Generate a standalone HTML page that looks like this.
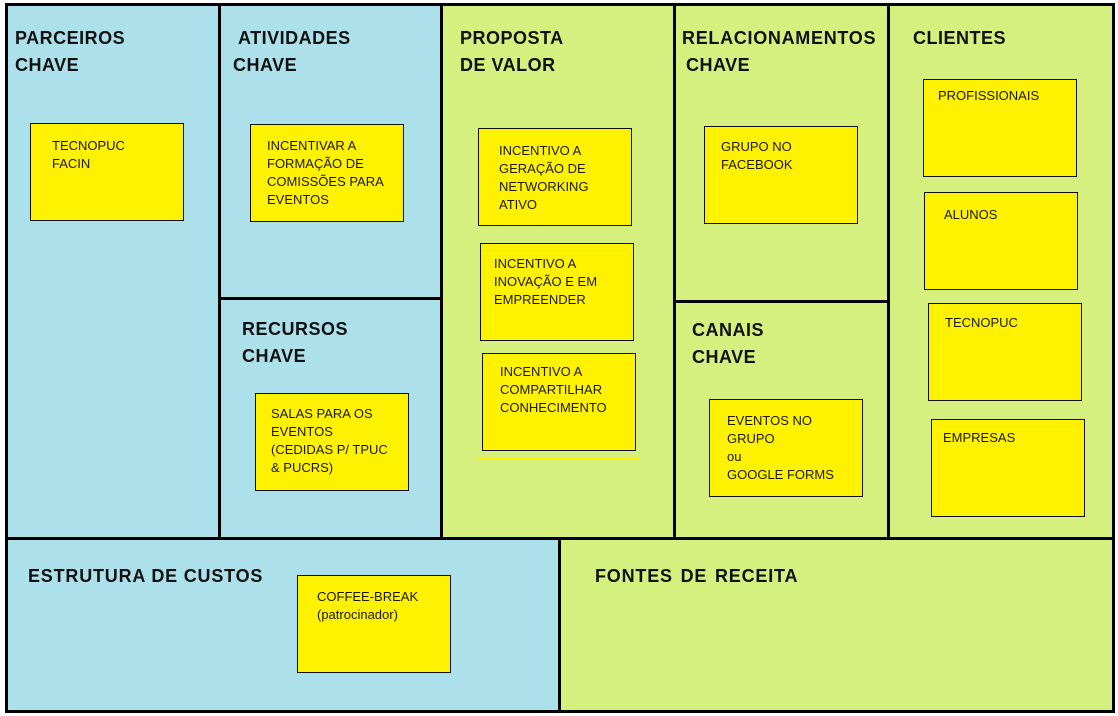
<!DOCTYPE html>
<html>
<head>
<meta charset="utf-8">
<style>
  html, body { margin:0; padding:0; }
  body { width:1118px; height:716px; position:relative; background:#ffffff; overflow:hidden;
         font-family:"Liberation Sans", sans-serif; color:#000; }
  .r { position:absolute; }
  .blue { background:#ace1ec; }
  .green { background:#d5f07f; }
  .ln { position:absolute; background:#000; }
  .h { position:absolute; font-weight:bold; font-size:18px; line-height:27px; letter-spacing:0.5px; white-space:nowrap; color:#111; }
  .note { position:absolute; box-sizing:border-box; background:#fff200; border:1px solid #111; }
  .t { position:absolute; font-size:13px; line-height:18px; white-space:nowrap; color:#1a1a00; }
</style>
</head>
<body>
  <!-- fills -->
  <div class="r blue" style="left:6px; top:4px; width:436px; height:535px;"></div>
  <div class="r green" style="left:441px; top:4px; width:673px; height:535px;"></div>
  <div class="r blue" style="left:6px; top:538px; width:554px; height:174px;"></div>
  <div class="r green" style="left:559px; top:538px; width:555px; height:174px;"></div>

  <!-- lines -->
  <div class="ln" style="left:5px; top:3px; width:1110px; height:3px;"></div>
  <div class="ln" style="left:5px; top:3px; width:3px; height:710px;"></div>
  <div class="ln" style="left:1112px; top:3px; width:3px; height:710px;"></div>
  <div class="ln" style="left:5px; top:710px; width:1110px; height:3px;"></div>
  <div class="ln" style="left:218px; top:3px; width:3px; height:536px;"></div>
  <div class="ln" style="left:440px; top:3px; width:3px; height:536px;"></div>
  <div class="ln" style="left:673px; top:3px; width:3px; height:536px;"></div>
  <div class="ln" style="left:887px; top:3px; width:3px; height:536px;"></div>
  <div class="ln" style="left:5px; top:537px; width:1110px; height:3px;"></div>
  <div class="ln" style="left:218px; top:297px; width:225px; height:3px;"></div>
  <div class="ln" style="left:673px; top:300px; width:217px; height:3px;"></div>
  <div class="ln" style="left:558px; top:537px; width:3px; height:176px;"></div>

  <!-- headings -->
  <div class="h" style="left:15px; top:25px;">PARCEIROS<br>CHAVE</div>
  <div class="h" style="left:238px; top:25px;">ATIVIDADES</div>
  <div class="h" style="left:233px; top:52px;">CHAVE</div>
  <div class="h" style="left:460px; top:25px;">PROPOSTA<br>DE VALOR</div>
  <div class="h" style="left:682px; top:25px; letter-spacing:0.7px;">RELACIONAMENTOS</div>
  <div class="h" style="left:686px; top:52px;">CHAVE</div>
  <div class="h" style="left:913px; top:25px;">CLIENTES</div>
  <div class="h" style="left:242px; top:316px;">RECURSOS<br>CHAVE</div>
  <div class="h" style="left:692px; top:317px;">CANAIS<br>CHAVE</div>
  <div class="h" style="left:28px; top:563px; letter-spacing:0.8px;">ESTRUTURA DE CUSTOS</div>
  <div class="h" style="left:595px; top:563px; letter-spacing:0.8px; word-spacing:2px;">FONTES DE RECEITA</div>

  <!-- notes -->
  <div class="note" style="left:30px; top:123px; width:154px; height:98px;"></div>
  <div class="t" style="left:52px; top:137px;">TECNOPUC<br>FACIN</div>

  <div class="note" style="left:250px; top:124px; width:154px; height:98px;"></div>
  <div class="t" style="left:267px; top:137px;">INCENTIVAR A<br>FORMAÇÃO DE<br>COMISSÕES PARA<br>EVENTOS</div>

  <div class="note" style="left:478px; top:128px; width:154px; height:98px;"></div>
  <div class="t" style="left:499px; top:142px;">INCENTIVO A<br>GERAÇÃO DE<br>NETWORKING<br>ATIVO</div>

  <div class="note" style="left:480px; top:243px; width:154px; height:98px;"></div>
  <div class="t" style="left:494px; top:255px;">INCENTIVO A<br>INOVAÇÃO E EM<br>EMPREENDER</div>

  <div class="note" style="left:482px; top:353px; width:154px; height:98px;"></div>
  <div class="t" style="left:500px; top:363px;">INCENTIVO A<br>COMPARTILHAR<br>CONHECIMENTO</div>
  <div class="r" style="left:478px; top:458px; width:162px; height:2px; background:#fff200;"></div>

  <div class="note" style="left:704px; top:126px; width:154px; height:98px;"></div>
  <div class="t" style="left:721px; top:138px;">GRUPO NO<br>FACEBOOK</div>

  <div class="note" style="left:709px; top:399px; width:154px; height:98px;"></div>
  <div class="t" style="left:727px; top:412px;">EVENTOS NO<br>GRUPO<br>ou<br>GOOGLE FORMS</div>

  <div class="note" style="left:923px; top:79px; width:154px; height:98px;"></div>
  <div class="t" style="left:938px; top:87px;">PROFISSIONAIS</div>

  <div class="note" style="left:924px; top:192px; width:154px; height:98px;"></div>
  <div class="t" style="left:944px; top:206px;">ALUNOS</div>

  <div class="note" style="left:928px; top:303px; width:154px; height:98px;"></div>
  <div class="t" style="left:945px; top:314px;">TECNOPUC</div>

  <div class="note" style="left:931px; top:419px; width:154px; height:98px;"></div>
  <div class="t" style="left:943px; top:429px;">EMPRESAS</div>

  <div class="note" style="left:255px; top:393px; width:154px; height:98px;"></div>
  <div class="t" style="left:271px; top:405px;">SALAS PARA OS<br>EVENTOS<br>(CEDIDAS P/ TPUC<br>&amp; PUCRS)</div>

  <div class="note" style="left:297px; top:575px; width:154px; height:98px;"></div>
  <div class="t" style="left:317px; top:588px;">COFFEE-BREAK<br>(patrocinador)</div>
</body>
</html>
